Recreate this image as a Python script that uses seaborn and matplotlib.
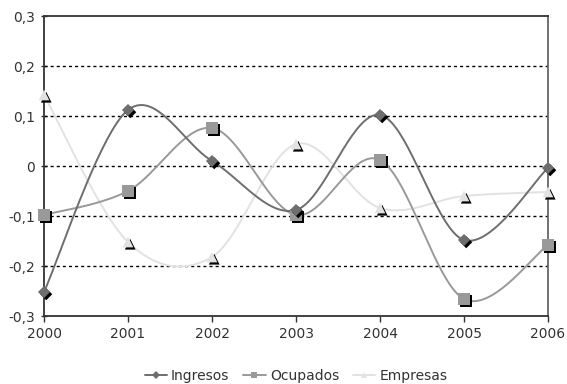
import numpy as np
import pandas as pd
import matplotlib
matplotlib.use("Agg")
import matplotlib.pyplot as plt
import matplotlib.patheffects as pe
from matplotlib.lines import Line2D
import seaborn as sns

years = [2000, 2001, 2002, 2003, 2004, 2005, 2006]
ingresos = [-0.252, 0.112, 0.010, -0.088, 0.102, -0.148, -0.004]
ocupados = [-0.098, -0.050, 0.076, -0.098, 0.012, -0.266, -0.158]
empresas = [0.142, -0.152, -0.182, 0.044, -0.084, -0.060, -0.052]
y_ticks = [-0.3, -0.2, -0.1, 0.0, 0.1, 0.2, 0.3]
y_labels = ["-0,3", "-0,2", "-0,1", "0", "0,1", "0,2", "0,3"]

series = {"Ingresos": ingresos, "Ocupados": ocupados, "Empresas": empresas}
colors = {"Ingresos": "#6e6e6e", "Ocupados": "#999999", "Empresas": "#e2e2e2"}
markers = {"Ingresos": "D", "Ocupados": "s", "Empresas": "^"}
msizes = {"Ingresos": 38, "Ocupados": 70, "Empresas": 60}


def smooth(x, y, n=40):
    """Catmull-Rom style Bezier smoothing through every point."""
    x = np.asarray(x, float)
    y = np.asarray(y, float)
    px = np.concatenate([[x[0]], x, [x[-1]]])
    py = np.concatenate([[y[0]], y, [y[-1]]])
    xs, ys = [], []
    t = np.linspace(0, 1, n)
    for i in range(1, len(px) - 2):
        p0 = np.array([px[i], py[i]])
        p3 = np.array([px[i + 1], py[i + 1]])
        c1 = p0 + (np.array([px[i + 1], py[i + 1]]) - np.array([px[i - 1], py[i - 1]])) / 6
        c2 = p3 - (np.array([px[i + 2], py[i + 2]]) - np.array([px[i], py[i]])) / 6
        b = ((1 - t) ** 3)[:, None] * p0 + (3 * (1 - t) ** 2 * t)[:, None] * c1 \
            + (3 * (1 - t) * t ** 2)[:, None] * c2 + (t ** 3)[:, None] * p3
        xs.extend(b[:, 0])
        ys.extend(b[:, 1])
    return np.array(xs), np.array(ys)


sns.set_theme(style="white")
plt.rcParams["font.family"] = ["DejaVu Sans"]

fig = plt.figure(figsize=(5.67, 3.84), dpi=100)
ax = fig.add_axes([44 / 567, 1 - 316 / 384, (548 - 44) / 567, 300 / 384])

# dotted reference lines
for v in [-0.2, -0.1, 0.0, 0.1, 0.2]:
    ax.axhline(v, color="black", lw=1.0, ls=(0, (2.2, 2.2)), zorder=1)

order = ["Empresas", "Ocupados", "Ingresos"]
for name in order:
    sx, sy = smooth(years, series[name])
    curve = pd.DataFrame({"x": sx, "y": sy})
    sns.lineplot(data=curve, x="x", y="y", ax=ax, color=colors[name], lw=1.4,
                 sort=False, estimator=None, zorder=3)

for name in order:
    pts = pd.DataFrame({"x": years, "y": series[name]})
    sc = sns.scatterplot(data=pts, x="x", y="y", ax=ax, marker=markers[name],
                         s=msizes[name], color=colors[name], edgecolor="none",
                         linewidth=0, zorder=5)
    sc.collections[-1].set_path_effects([
        pe.SimplePatchShadow(offset=(1.6, -1.6), shadow_rgbFace="black", alpha=1.0),
        pe.Normal(),
    ])
    sc.collections[-1].set_clip_on(False)

ax.set_xlim(2000, 2006)
ax.set_ylim(-0.3, 0.3)
ax.set_xticks(years)
ax.set_xticklabels([str(y) for y in years])
ax.set_yticks(y_ticks)
ax.set_yticklabels(y_labels)
ax.set_xlabel("")
ax.set_ylabel("")
ax.tick_params(axis="x", direction="out", length=4, width=1, color="#333333",
               labelsize=10, labelcolor="#333333", pad=4)
ax.tick_params(axis="y", direction="inout", length=5, width=1, color="#333333",
               labelsize=10, labelcolor="#333333", pad=4)
ax.tick_params(bottom=True, left=True)

for side in ["left", "bottom", "top"]:
    ax.spines[side].set_color("#333333")
    ax.spines[side].set_linewidth(1.3)
ax.spines["right"].set_color("#666666")
ax.spines["right"].set_linewidth(1.3)

handles = [Line2D([0], [0], color=colors[n], lw=1.4, marker=markers[n],
                  markersize={"Ingresos": 4, "Ocupados": 5, "Empresas": 5}[n],
                  markeredgewidth=0)
           for n in ["Ingresos", "Ocupados", "Empresas"]]
fig.legend(handles, ["Ingresos", "Ocupados", "Empresas"], loc="center",
           bbox_to_anchor=(296 / 567, 1 - 376 / 384), ncol=3, frameon=False,
           fontsize=10, handlelength=1.6, handletextpad=0.3, columnspacing=1.0,
           labelcolor="#333333")

fig.savefig("out.png", dpi=100)
